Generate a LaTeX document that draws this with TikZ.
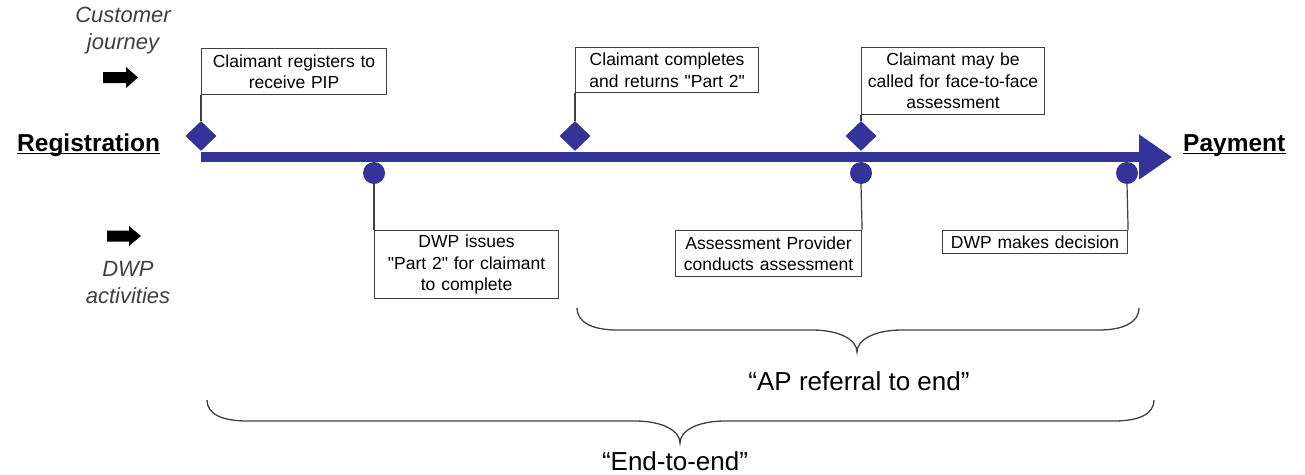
\documentclass[tikz,border=0pt]{standalone}
\usepackage{fontspec}
\setmainfont{Liberation Sans}
\newfontfamily\qfont{Liberation Sans}[Ligatures=ResetAll]
\usetikzlibrary{shapes.geometric,arrows.meta}
\definecolor{navy}{RGB}{51,51,153}
\definecolor{edge}{RGB}{64,64,64}
\definecolor{graytext}{RGB}{64,64,64}
\newcommand{\dq}{{\qfont\char34}}
\begin{document}
\begin{tikzpicture}[x=1pt,y=-1pt,
  evbox/.style={draw=edge,line width=1.1pt,fill=white,inner sep=0pt,align=center,anchor=north west,
    font=\fontsize{17.5}{21.5}\selectfont},
  dia/.style={diamond,fill=navy,inner sep=0pt,minimum width=31pt,minimum height=30pt},
  dot/.style={circle,fill=navy,inner sep=0pt,minimum size=22pt},
  link/.style={draw=edge,line width=1.2pt},
  sidelabel/.style={font=\fontsize{22}{27}\selectfont\itshape,text=graytext,align=center},
  endlabel/.style={font=\fontsize{24.5}{28}\selectfont\bfseries,inner sep=0pt},
  bracelabel/.style={font=\fontsize{26}{30}\selectfont},
  bracepath/.style={draw=edge,line width=1.3pt}
]
\useasboundingbox (0,0) rectangle (1305,474);

% side labels
\node[sidelabel] (cj) at (123,31) {Customer\\journey};
\fill[black] (103,72) -- (126,72) -- (126,67) -- (138,77.5) -- (126,88) -- (126,83) -- (103,83) -- cycle;
\node[sidelabel] (dwp) at (128,283) {DWP\\activities};
\fill[black] (107,230.5) -- (129,230.5) -- (129,226) -- (141,236) -- (129,246) -- (129,241.5) -- (107,241.5) -- cycle;

% end labels
\node[endlabel,anchor=base west] (reg) at (17,151) {Registration};
\draw[line width=1.3pt] ([yshift=-2.5pt]reg.base west) -- ([yshift=-2.5pt]reg.base east);
\node[endlabel,anchor=base west] (pay) at (1183,151) {Payment};
\draw[line width=1.3pt] ([yshift=-2.5pt]pay.base west) -- ([yshift=-2.5pt]pay.base east);

% main timeline
\coordinate (ts) at (201,157);
\coordinate (te) at (1172,157);
\draw[navy,line width=10.5pt,-{Triangle[length=33pt,width=43pt]}] (ts) -- (te);

% milestone markers
\node[dia] (d1) at (201,136) {};
\node[dia] (d2) at (575,136) {};
\node[dia] (d3) at (861,136) {};
\node[dot] (c1) at (374,173) {};
\node[dot] (c2) at (861,173) {};
\node[dot] (c3) at (1127,173) {};

% boxes
\node[evbox,minimum width=185pt,minimum height=46pt,text width=185pt] (b1) at (201,48) {Claimant registers to\\receive PIP};
\node[evbox,minimum width=183pt,minimum height=45pt,text width=183pt] (b2) at (575,47) {Claimant completes\\and returns \dq Part 2\dq};
\node[evbox,minimum width=183pt,minimum height=67pt,text width=183pt] (b3) at (861,47) {Claimant may be\\called for face-to-face\\assessment};
\node[evbox,minimum width=184pt,minimum height=68pt,text width=184pt] (b4) at (374,230) {DWP issues\\\dq Part 2\dq{} for claimant\\to complete};
\node[evbox,minimum width=186pt,minimum height=46pt,text width=186pt] (b5) at (675,230) {Assessment Provider\\conducts assessment};
\node[evbox,minimum width=185pt,minimum height=23pt,text width=185pt] (b6) at (942,230) {DWP makes decision};

% connectors
\draw[link] (b1.south west) -- (d1.north);
\draw[link] (b2.south west) -- (d2.north);
\draw[link] (b3.south west) -- (d3.north);
\draw[link] (c1.south) -- (b4.north west);
\draw[link] (c2.south) -- (b5.north east);
\draw[link] (c3.south) -- (b6.north east);

% braces
\draw[bracepath] (577,308) .. controls (577,322) and (592,330) .. (617,330) -- (812,330)
  .. controls (840,330) and (857,340) .. (857,352)
  .. controls (857,340) and (874,330) .. (902,330) -- (1099,330)
  .. controls (1124,330) and (1139,322) .. (1139,308);
\node[bracelabel] (apl) at (859,381) {“AP referral to end”};

\draw[bracepath] (207,400) .. controls (207,414) and (222,421) .. (247,421) -- (635,421)
  .. controls (663,421) and (680,431) .. (680,443)
  .. controls (680,431) and (697,421) .. (725,421) -- (1114,421)
  .. controls (1139,421) and (1154,414) .. (1154,400);
\node[bracelabel] (e2e) at (675,461) {“End-to-end”};
\end{tikzpicture}
\end{document}
